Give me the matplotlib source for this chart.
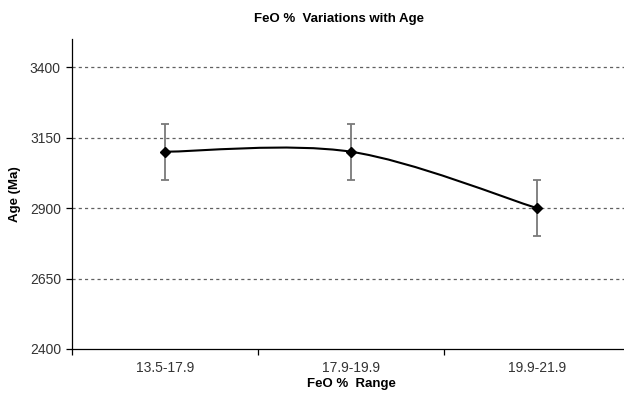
import matplotlib

matplotlib.use("Agg")
import matplotlib.pyplot as plt
import numpy as np
from matplotlib.path import Path
from matplotlib.patches import PathPatch

# ==========================================
# Data
# ==========================================
CATEGORIES = ["13.5-17.9", "17.9-19.9", "19.9-21.9"]
AGE_MA = [3100, 3100, 2900]
AGE_ERR = [100, 100, 100]
Y_TICKS = [2400, 2650, 2900, 3150, 3400]

plt.rcParams["font.family"] = ["Liberation Sans", "DejaVu Sans"]


def smooth_path(xs, ys):
    """Excel-style smoothed line: cubic Bezier segments through the points."""
    pts = np.column_stack([xs, ys]).astype(float)
    n = len(pts)
    verts = [pts[0]]
    codes = [Path.MOVETO]
    for i in range(n - 1):
        p0 = pts[i - 1] if i > 0 else pts[i]
        p1 = pts[i]
        p2 = pts[i + 1]
        p3 = pts[i + 2] if i + 2 < n else pts[i + 1]
        c1 = p1 + (p2 - p0) / 6.0
        c2 = p2 - (p3 - p1) / 6.0
        verts += [c1, c2, p2]
        codes += [Path.CURVE4] * 3
    return Path(verts, codes)


fig = plt.figure(figsize=(6.24, 4.01), dpi=100)
ax = fig.add_axes([0.1154, 0.1297, 0.894, 0.773])

x = np.arange(len(CATEGORIES))

# grid (dashed, skip the baseline)
for yv in Y_TICKS[1:]:
    ax.axhline(yv, color="#606060", lw=0.9, ls=(0, (2.5, 2.5)), zorder=1)

# smoothed line
ax.add_patch(PathPatch(smooth_path(x, AGE_MA), facecolor="none",
                       edgecolor="black", lw=1.5, zorder=3))

# error bars + markers
ax.errorbar(x, AGE_MA, yerr=AGE_ERR, fmt="none", ecolor="#7a7a7a",
            elinewidth=1.3, capsize=3, capthick=1.3, zorder=2)
ax.plot(x, AGE_MA, ls="none", marker="D", ms=5, color="black", zorder=4)

ax.set_xlim(-0.5, len(CATEGORIES) - 0.5)
ax.set_ylim(2400, 3500)
ax.set_yticks(Y_TICKS)
ax.set_xticks(np.arange(-0.5, len(CATEGORIES)), minor=False)
ax.set_xticklabels([])
ax.set_xticks(x, minor=True)
ax.set_xticklabels(CATEGORIES, minor=True)
ax.tick_params(axis="x", which="minor", length=0, pad=9,
               labelsize=10, labelcolor="#333333")
ax.tick_params(axis="x", which="major", length=4, width=0.9, color="black")
ax.tick_params(axis="y", length=4, width=0.9, pad=4,
               labelsize=10, labelcolor="#333333")

for side in ["top", "right"]:
    ax.spines[side].set_visible(False)
for side in ["left", "bottom"]:
    ax.spines[side].set_linewidth(0.9)

ax.set_xlabel("FeO %  Range", fontsize=9.5, fontweight="bold", labelpad=1.5)
ax.set_ylabel("Age (Ma)", fontsize=9.5, fontweight="bold", labelpad=6)
fig.text(339 / 624, 1 - 19 / 401, "FeO %  Variations with Age", ha="center",
         va="center", fontsize=9.5, fontweight="bold")

fig.savefig("out.png", dpi=100)
